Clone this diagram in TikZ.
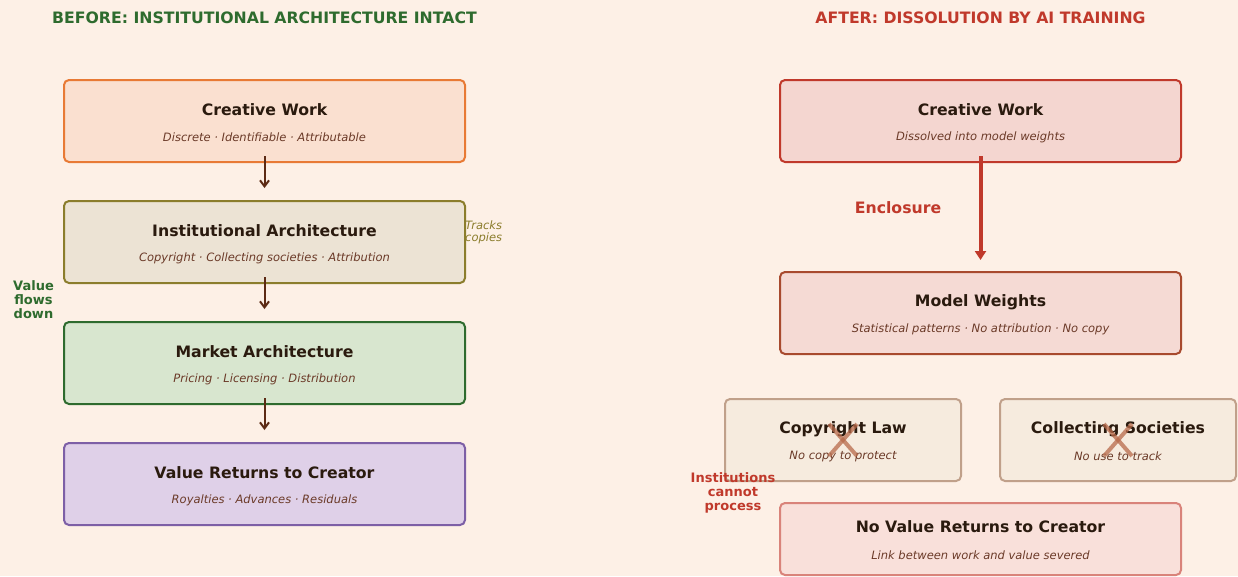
\documentclass[tikz,border=0pt]{standalone}
\usepackage{fontspec}
\setmainfont{DejaVu Sans}
\usepackage{xcolor}
\usetikzlibrary{arrows.meta}
\definecolor{vbg}{HTML}{FDF0E6}
\definecolor{vink}{HTML}{2A1A0E}
\definecolor{vsub}{HTML}{6B3A28}
\definecolor{vgreen}{HTML}{2E6B2E}
\definecolor{vred}{HTML}{C0392B}
\definecolor{volive}{HTML}{8B7D2C}
\definecolor{varrow}{HTML}{5C2A14}
\definecolor{vcross}{HTML}{B86A4A}

\tikzset{
	card/.style={draw, rounded corners=5pt, line width=2pt, minimum width=401pt, minimum height=82pt, inner sep=0pt},
	smallcard/.style={card, minimum width=236pt},
	cardtitle/.style={text=vink, font=\fontsize{15.7}{18}\selectfont\bfseries},
	cardsub/.style={text=vsub, font=\fontsize{11.5}{13}\selectfont\itshape},
	heading/.style={font=\fontsize{15.7}{18}\selectfont\bfseries},
	flow/.style={draw=varrow, line width=2pt, -{Straight Barb[length=6pt,width=9pt]}},
	cross/.style={draw=vcross, line width=4pt, opacity=.75}
}

\begin{document}
\begin{tikzpicture}[x=1pt, y=-1pt]
		\useasboundingbox (0,0) rectangle (1238,576);
		\fill[vbg] (0,0) rectangle (1238,576);

		% before
		\node[heading, text=vgreen] (hbefore) at (264.5,18) {BEFORE: INSTITUTIONAL ARCHITECTURE INTACT};
		\node[card, draw={rgb,255:red,232;green,122;blue,53}, fill={rgb,255:red,250;green,224;blue,208}] (cwl) at (264.5,121) {};
		\node[cardtitle] (cwlt) at ([yshift=11pt]cwl.center) {Creative Work};
		\node[cardsub] (cwls) at ([yshift=-16.5pt]cwl.center) {Discrete · Identifiable · Attributable};
		\node[card, draw=volive, fill={rgb,255:red,236;green,227;blue,212}] (ia) at (264.5,242) {};
		\node[cardtitle] (iat) at ([yshift=11pt]ia.center) {Institutional Architecture};
		\node[cardsub] (ias) at ([yshift=-16.5pt]ia.center) {Copyright · Collecting societies · Attribution};
		\node[card, draw=vgreen, fill={rgb,255:red,216;green,230;blue,207}] (ma) at (264.5,363) {};
		\node[cardtitle] (mat) at ([yshift=11pt]ma.center) {Market Architecture};
		\node[cardsub] (mas) at ([yshift=-16.5pt]ma.center) {Pricing · Licensing · Distribution};
		\node[card, draw={rgb,255:red,125;green,95;blue,166}, fill={rgb,255:red,223;green,208;blue,232}] (vr) at (264.5,484) {};
		\node[cardtitle] (vrt) at ([yshift=11pt]vr.center) {Value Returns to Creator};
		\node[cardsub] (vrs) at ([yshift=-16.5pt]vr.center) {Royalties · Advances · Residuals};

		\draw[flow] ([yshift=7pt]cwl.south) -- ([yshift=12pt]ia.north);
		\draw[flow] ([yshift=7pt]ia.south) -- ([yshift=12pt]ma.north);
		\draw[flow] ([yshift=7pt]ma.south) -- ([yshift=12pt]vr.north);

		\node[text=volive, font=\fontsize{11.5}{11.5}\selectfont\itshape, align=left, anchor=west, inner sep=0pt] (tracks) at (465,232.5) {Tracks\\copies};
		\node[text=vgreen, font=\fontsize{13}{14}\selectfont\bfseries, align=center] (vflow) at (33.5,300) {Value\\flows\\down};

		% after
		\node[heading, text=vred] (hafter) at (980.5,18) {AFTER: DISSOLUTION BY AI TRAINING};
		\node[card, draw=vred, fill={rgb,255:red,244;green,214;blue,208}] (cwr) at (980.5,121) {};
		\node[cardtitle] (cwrt) at ([yshift=11pt]cwr.center) {Creative Work};
		\node[cardsub] (cwrs) at ([yshift=-16.5pt]cwr.center) {Dissolved into model weights};
		\node[card, draw={rgb,255:red,168;green,74;blue,46}, fill={rgb,255:red,245;green,218;blue,212}] (mw) at (980.5,313) {};
		\node[cardtitle] (mwt) at ([yshift=11pt]mw.center) {Model Weights};
		\node[cardsub] (mws) at ([yshift=-16.5pt]mw.center) {Statistical patterns · No attribution · No copy};

		\draw[draw=vred, line width=4pt, -{Triangle[length=9pt,width=11pt]}] ([yshift=7pt]cwr.south) -- ([yshift=11pt]mw.north);
		\node[heading, text=vred] (encl) at (898,208) {Enclosure};

		\node[smallcard, draw={rgb,255:red,192;green,160;blue,138}, fill={rgb,255:red,246;green,235;blue,222}] (cl) at (843,440) {};
		\node[cardtitle] (clt) at ([yshift=11pt]cl.center) {Copyright Law};
		\node[cardsub] (cls) at ([yshift=-16.5pt]cl.center) {No copy to protect};
		\node[smallcard, draw={rgb,255:red,192;green,160;blue,138}, fill={rgb,255:red,246;green,235;blue,222}] (cs) at (1118,440) {};
		\node[cardtitle] (cst) at ([yshift=11pt]cs.center) {Collecting Societies};
		\node[cardsub] (css) at ([yshift=-16.5pt]cs.center) {No use to track};
		\draw[cross] ([shift={(-14,-16)}]cl.center) -- ([shift={(14,16)}]cl.center);
		\draw[cross] ([shift={(14,-16)}]cl.center) -- ([shift={(-14,16)}]cl.center);
		\draw[cross] ([shift={(-14,-16)}]cs.center) -- ([shift={(14,16)}]cs.center);
		\draw[cross] ([shift={(14,-16)}]cs.center) -- ([shift={(-14,16)}]cs.center);

		\node[text=vred, font=\fontsize{13}{14}\selectfont\bfseries, align=center] (noproc) at (733,493) {Institutions\\cannot\\process};

		\node[card, minimum height=72pt, draw={rgb,255:red,217;green,131;blue,122}, fill={rgb,255:red,249;green,224;blue,218}] (nv) at (980.5,539) {};
		\node[cardtitle] (nvt) at ([yshift=12pt]nv.center) {No Value Returns to Creator};
		\node[cardsub] (nvs) at ([yshift=-16.5pt]nv.center) {Link between work and value severed};
	\end{tikzpicture}
\end{document}
